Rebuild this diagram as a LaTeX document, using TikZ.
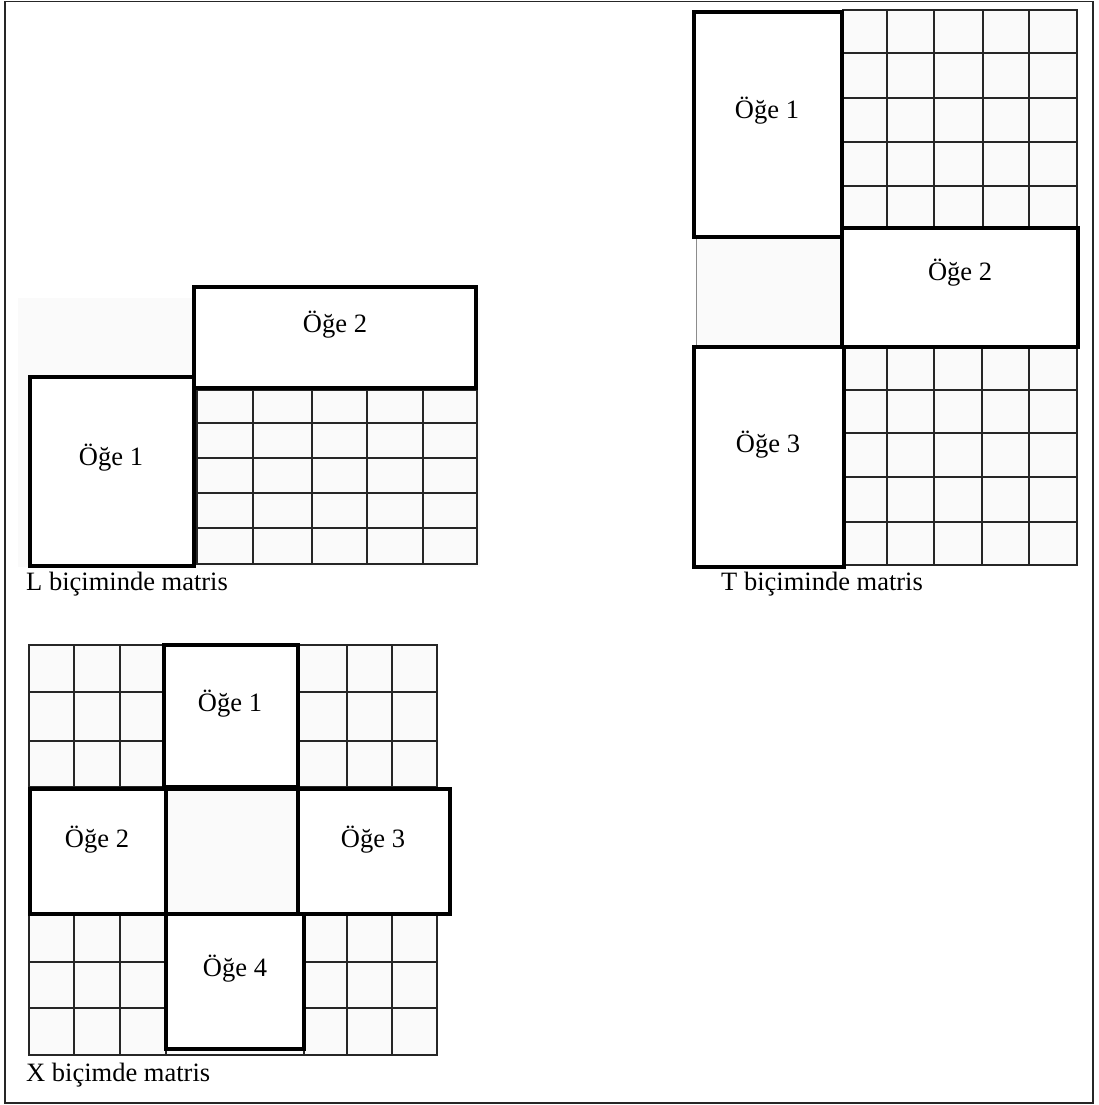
\documentclass[tikz,border=0pt]{standalone}
\usepackage{fontspec}
\setmainfont{Liberation Serif}
\begin{document}
\begin{tikzpicture}[x=1pt,y=-1pt,
  thickbox/.style={draw=black, line width=4.5pt, fill=white, inner sep=0pt, outer sep=0pt},
  emptycell/.style={draw=black!45, line width=1pt, fill=black!2, inner sep=0pt, outer sep=0pt},
  gridln/.style={draw=black!85, line width=1.4pt},
  gridbg/.style={fill=black!2},
  txt/.style={font=\fontsize{26.5}{30}\selectfont, inner sep=0pt, anchor=base},
  captxt/.style={font=\fontsize{26.5}{30}\selectfont, inner sep=0pt, anchor=base west}]
\useasboundingbox (0,0) rectangle (1099,1105);
% outer frame
\draw[line width=1.6pt, black!85] (5,1.5) rectangle (1093,1103);

% ---------------- L matrix ----------------
\fill[gridbg] (18,298) rectangle (480,567);
\draw[gridln] (197,390) rectangle (477,564);
\foreach \x in {253,312,367,423} \draw[gridln] (\x,390) -- (\x,564);
\foreach \y in {423,458,493,528} \draw[gridln] (197,\y) -- (477,\y);
\node[thickbox, minimum width=282pt, minimum height=101pt] (L2) at (335,337.5) {};
\node[thickbox, minimum width=164pt, minimum height=189pt] (L1) at (112,471.5) {};
\node[txt] (L2t) at (335,332) {Öğe 2};
\node[txt] (L1t) at (111,465) {Öğe 1};
\node[captxt] (Lcap) at (26,590) {L biçiminde matris};

% ---------------- T matrix ----------------
\fill[gridbg] (843,10) rectangle (1077,227);
\fill[gridbg] (844,347) rectangle (1077,565);
\draw[gridln] (843,10) rectangle (1077,227);
\foreach \x in {887,934,983,1029} \draw[gridln] (\x,10) -- (\x,227);
\foreach \y in {53,98,142,186} \draw[gridln] (843,\y) -- (1077,\y);
\draw[gridln] (844,347) rectangle (1077,565);
\foreach \x in {887,934,982,1029} \draw[gridln] (\x,347) -- (\x,565);
\foreach \y in {390,433,477,522} \draw[gridln] (844,\y) -- (1077,\y);
\node[emptycell, minimum width=146pt, minimum height=110pt] (Tc) at (769,292) {};
\node[thickbox, minimum width=148pt, minimum height=225pt] (T1) at (768,124.5) {};
\node[thickbox, minimum width=236pt, minimum height=119pt] (T2) at (960,287.5) {};
\node[thickbox, minimum width=150pt, minimum height=220pt] (T3) at (769,457) {};
\node[txt] (T1t) at (767,118) {Öğe 1};
\node[txt] (T2t) at (960,280) {Öğe 2};
\node[txt] (T3t) at (768,452) {Öğe 3};
\node[captxt] (Tcap) at (721,590) {T biçiminde matris};

% ---------------- X matrix ----------------
\fill[gridbg] (29,645) rectangle (164,787);
\fill[gridbg] (298,645) rectangle (437,787);
\fill[gridbg] (29,914) rectangle (437,1055);
% top-left grid
\draw[gridln] (29,645) rectangle (164,787);
\foreach \x in {74,120} \draw[gridln] (\x,645) -- (\x,787);
\foreach \y in {692,741} \draw[gridln] (29,\y) -- (164,\y);
% top-right grid
\draw[gridln] (298,645) rectangle (437,787);
\foreach \x in {347,392} \draw[gridln] (\x,645) -- (\x,787);
\foreach \y in {692,741} \draw[gridln] (298,\y) -- (437,\y);
% bottom-left grid
\draw[gridln] (29,914) rectangle (166,1055);
\foreach \x in {74,120} \draw[gridln] (\x,914) -- (\x,1055);
\foreach \y in {962,1008} \draw[gridln] (29,\y) -- (166,\y);
% bottom-right grid
\draw[gridln] (304,914) rectangle (437,1055);
\foreach \x in {347,392} \draw[gridln] (\x,914) -- (\x,1055);
\foreach \y in {962,1008} \draw[gridln] (304,\y) -- (437,\y);
\draw[gridln] (166,1055) -- (304,1055);
% boxes
\node[thickbox, fill=black!2, minimum width=132pt, minimum height=125pt] (Xc) at (232,851.5) {};
\node[thickbox, minimum width=134pt, minimum height=142pt] (X1) at (231,716) {};
\node[thickbox, minimum width=136pt, minimum height=125pt] (X2) at (98,851.5) {};
\node[thickbox, minimum width=152pt, minimum height=125pt] (X3) at (374,851.5) {};
\node[thickbox, minimum width=138pt, minimum height=135pt] (X4) at (235,981.5) {};
\node[txt] (X1t) at (230,711) {Öğe 1};
\node[txt] (X2t) at (97,847) {Öğe 2};
\node[txt] (X3t) at (373,847) {Öğe 3};
\node[txt] (X4t) at (235,976) {Öğe 4};
\node[captxt] (Xcap) at (26,1081) {X biçimde matris};
\end{tikzpicture}
\end{document}
